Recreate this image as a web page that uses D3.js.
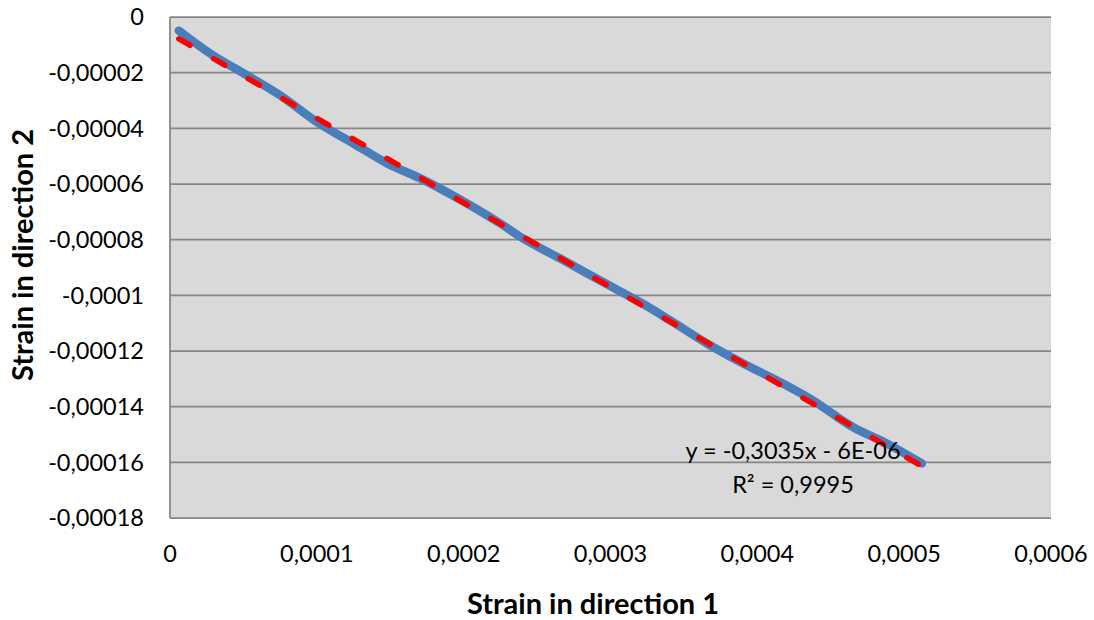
<!DOCTYPE html>
<html>
<head>
<meta charset="utf-8">
<script src="https://cdn.jsdelivr.net/npm/d3@7"></script>
<style>
  html, body { margin: 0; padding: 0; background: #fff; }
  svg { display: block; font-family: Lato, "Open Sans", sans-serif; }
  .tick-label { font-size: 23.5px; fill: #000; }
  .axis-title { font-size: 29px; font-weight: bold; fill: #000; }
</style>
</head>
<body>
<div class="chart"></div>
<script>
// strain readings (direction 1 vs direction 2)
const strain1 = [0.0000060, 0.0000276, 0.0000526, 0.0000752, 0.0001002, 0.0001249, 0.0001479,
  0.0001705, 0.0002023, 0.000225, 0.0002406, 0.0002658, 0.000293, 0.0003203, 0.0003407,
  0.0003657, 0.0003904, 0.0004156, 0.000438, 0.0004653, 0.0004882, 0.000512]
const strain2 = [-0.0000049, -0.0000132, -0.000021, -0.0000282, -0.0000378, -0.00004545, -0.0000526,
  -0.000058, -0.000067, -0.0000742, -0.0000796, -0.0000868, -0.0000947, -0.0001025, -0.000109,
  -0.0001173, -0.0001245, -0.0001312, -0.0001378, -0.0001474, -0.0001532, -0.0001604]

const xTicks = [0, 0.0001, 0.0002, 0.0003, 0.0004, 0.0005, 0.0006]
const yTicks = [0, -0.00002, -0.00004, -0.00006, -0.00008, -0.0001, -0.00012, -0.00014, -0.00016, -0.00018]

const slope = -0.3035
const intercept = -0.000006
const trendText = ["y = -0,3035x - 6E-06", "R\u00b2 = 0,9995"]

const xTitle = "Strain in direction 1"
const yTitle = "Strain in direction 2"

const width = 1094
const height = 620
const plot = { left: 170, right: 1051, top: 17, bottom: 518 }

const fmt = d => d === 0 ? "0" : String(+d.toFixed(6)).replace(".", ",")

const x = d3.scaleLinear()
    .domain([0, 0.0006])
    .range([plot.left, plot.right])

const y = d3.scaleLinear()
    .domain([-0.00018, 0])
    .range([plot.bottom, plot.top])

const svg = d3.select(".chart")
    .append("svg")
    .attr("width", width)
    .attr("height", height)

// plot area
svg.append("rect")
    .attr("x", plot.left)
    .attr("y", plot.top)
    .attr("width", plot.right - plot.left)
    .attr("height", plot.bottom - plot.top)
    .style("fill", "#d9d9d9")

// horizontal gridlines
svg.selectAll(".grid")
    .data(yTicks)
    .enter().append("line")
    .attr("class", "grid")
    .attr("x1", plot.left)
    .attr("x2", plot.right)
    .attr("y1", d => y(d))
    .attr("y2", d => y(d))
    .style("stroke", "#868686")
    .style("stroke-width", 1.75)

svg.append("line")
    .attr("x1", plot.left)
    .attr("x2", plot.left)
    .attr("y1", plot.top)
    .attr("y2", plot.bottom)
    .style("stroke", "#868686")
    .style("stroke-width", 1.75)

// tick labels
svg.selectAll(".ytick")
    .data(yTicks)
    .enter().append("text")
    .attr("class", "tick-label")
    .attr("x", plot.left - 26)
    .attr("y", d => y(d))
    .attr("dy", "0.36em")
    .attr("text-anchor", "end")
    .text(fmt)

svg.selectAll(".xtick")
    .data(xTicks)
    .enter().append("text")
    .attr("class", "tick-label")
    .attr("x", d => x(d))
    .attr("y", 562)
    .attr("text-anchor", "middle")
    .text(fmt)

// measured series, smoothed
const pts = strain1.map((d, i) => [d, strain2[i]])

const line = d3.line()
    .x(d => x(d[0]))
    .y(d => y(d[1]))
    .curve(d3.curveCatmullRom.alpha(0.5))

svg.append("path")
    .datum(pts)
    .attr("d", line)
    .style("fill", "none")
    .style("stroke", "#4a7ebb")
    .style("stroke-width", 8.5)
    .style("stroke-linecap", "round")
    .style("stroke-linejoin", "round")

// linear trendline
const xExt = d3.extent(strain1)
svg.append("path")
    .datum(xExt.map(v => [v, slope * v + intercept]))
    .attr("d", d3.line().x(d => x(d[0])).y(d => y(d[1])))
    .style("fill", "none")
    .style("stroke", "#ff0000")
    .style("stroke-width", 5.5)
    .style("stroke-linecap", "round")
    .style("stroke-dasharray", "13 27")

svg.selectAll(".trend-label")
    .data(trendText)
    .enter().append("text")
    .attr("class", "tick-label")
    .attr("x", 793)
    .attr("y", (d, i) => 459 + i * 34)
    .attr("text-anchor", "middle")
    .text(d => d)

// axis titles
svg.append("text")
    .attr("class", "axis-title")
    .attr("x", 593)
    .attr("y", 614)
    .attr("text-anchor", "middle")
    .text(xTitle)

svg.append("text")
    .attr("class", "axis-title")
    .attr("transform", "translate(33,255) rotate(-90)")
    .attr("text-anchor", "middle")
    .text(yTitle)
</script>
</body>
</html>
